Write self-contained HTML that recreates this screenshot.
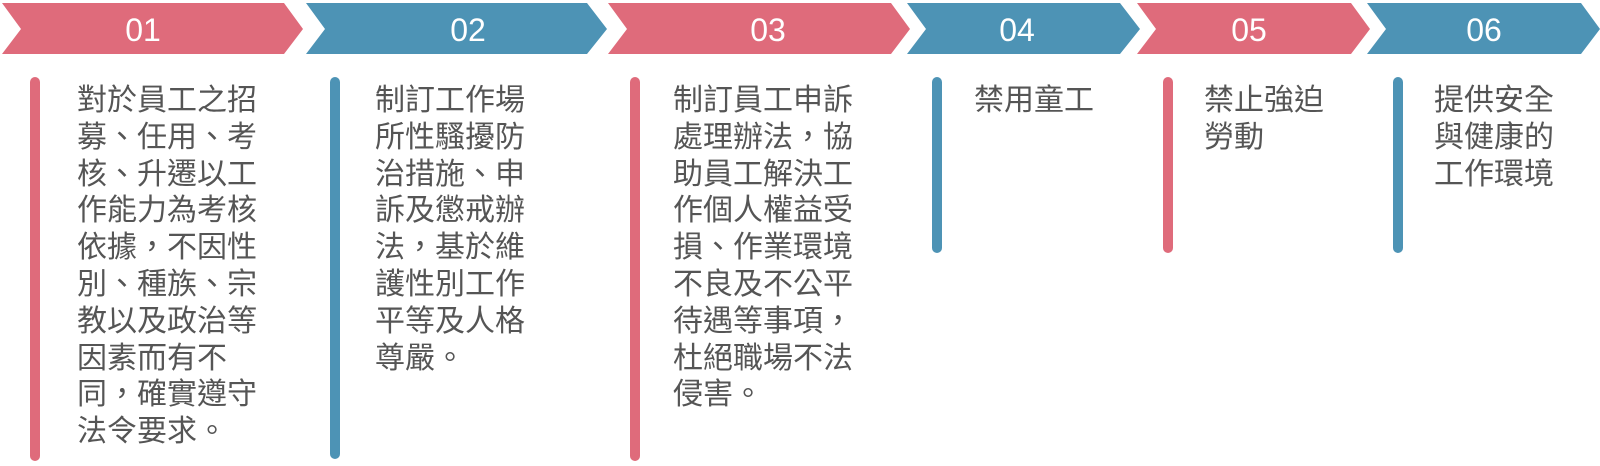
<!DOCTYPE html>
<html><head><meta charset="utf-8"><style>
body{margin:0;width:1600px;height:466px;background:#fff;position:relative;overflow:hidden;font-family:"Liberation Sans","Noto Sans CJK TC",sans-serif}
.bar{position:absolute;width:10px;border-radius:5px;top:77px}
.t{position:absolute;top:83px;font-size:30px;line-height:36.8px;color:#555;font-family:"Liberation Sans","Noto Sans CJK TC",sans-serif;white-space:nowrap}
.r{background:#df6b7b}.b{background:#4d93b5}
</style></head><body>
<svg width="1600" height="60" style="position:absolute;left:0;top:0">
<polygon points="2,3 284,3 303,29 284,54 2,54 21,29" fill="#df6b7b"/>
<polygon points="306,3 587,3 607,29 587,54 306,54 325,29" fill="#4d93b5"/>
<polygon points="608,3 891,3 910,29 891,54 608,54 627,29" fill="#df6b7b"/>
<polygon points="907,3 1120,3 1140,29 1120,54 907,54 926,29" fill="#4d93b5"/>
<polygon points="1137,3 1351,3 1370,29 1351,54 1137,54 1156,29" fill="#df6b7b"/>
<polygon points="1367,3 1581,3 1600,29 1581,54 1367,54 1386,29" fill="#4d93b5"/>
<g fill="#fff" font-family="Liberation Sans" font-size="32" text-anchor="middle">
<text x="143" y="41">01</text><text x="468" y="41">02</text><text x="768" y="41">03</text>
<text x="1017" y="41">04</text><text x="1249" y="41">05</text><text x="1484" y="41">06</text></g>
</svg>
<div class="bar r" style="left:30px;height:384px"></div>
<div class="bar b" style="left:330px;height:382px"></div>
<div class="bar r" style="left:630px;height:384px"></div>
<div class="bar b" style="left:932px;height:176px"></div>
<div class="bar r" style="left:1163px;height:176px"></div>
<div class="bar b" style="left:1393px;height:176px"></div>
<div class="t" style="left:77px">對於員工之招<br>募、任用、考<br>核、升遷以工<br>作能力為考核<br>依據，不因性<br>別、種族、宗<br>教以及政治等<br>因素而有不<br>同，確實遵守<br>法令要求。</div>
<div class="t" style="left:375px">制訂工作場<br>所性騷擾防<br>治措施、申<br>訴及懲戒辦<br>法，基於維<br>護性別工作<br>平等及人格<br>尊嚴。</div>
<div class="t" style="left:673px">制訂員工申訴<br>處理辦法，協<br>助員工解決工<br>作個人權益受<br>損、作業環境<br>不良及不公平<br>待遇等事項，<br>杜絕職場不法<br>侵害。</div>
<div class="t" style="left:974px">禁用童工</div>
<div class="t" style="left:1204px">禁止強迫<br>勞動</div>
<div class="t" style="left:1434px">提供安全<br>與健康的<br>工作環境</div>
</body></html>
